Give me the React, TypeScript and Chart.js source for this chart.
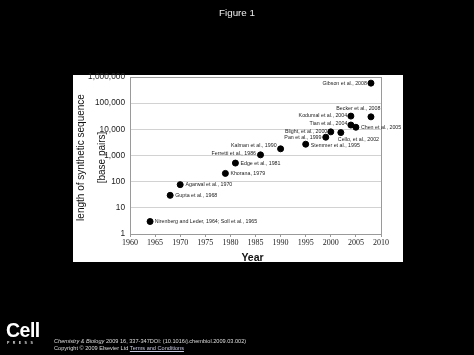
import React, { useEffect, useRef } from "react";
import { Chart, registerables } from "chart.js";

Chart.register(...registerables);

const YEARS = [1964, 1968, 1970, 1979, 1981, 1986, 1990, 1995, 1999, 2000, 2002, 2004, 2005, 2004, 2008, 2008];
const BASE_PAIRS = [3, 30, 77, 207, 514, 1057, 1800, 2700, 5000, 8000, 7500, 14600, 12000, 32000, 30000, 583000];
const POINT_LABELS = [
  "Nirenberg and Leder, 1964; Soll et al., 1965",
  "Gupta et al., 1968",
  "Agarwal et al., 1970",
  "Khorana, 1979",
  "Edge et al., 1981",
  "Ferretti et al., 1986",
  "Kalman et al., 1990",
  "Stemmer et al., 1995",
  "Pan et al., 1999",
  "Blight, et al., 2000",
  "Cello, et al., 2002",
  "Tian et al., 2004",
  "Chen et al., 2005",
  "Kodumal et al., 2004",
  "Becker et al., 2008",
  "Gibson et al., 2008",
];
const X_TICKS = [1960, 1965, 1970, 1975, 1980, 1985, 1990, 1995, 2000, 2005, 2010];
const Y_TICKS = [1, 10, 100, 1000, 10000, 100000, 1000000];
const Y_TICK_LABELS = ["1", "10", "100", "1,000", "10,000", "100,000", "1,000,000"];
const Y_TITLE = ["length of synthetic sequence", "[base pairs]"];
const X_TITLE = "Year";

// label placement style: [textAlign, dx, dy]
const LABEL_STYLE: [CanvasTextAlign, number, number][] = [
  ["left", 4.7, 0],
  ["left", 5, 0],
  ["left", 5.3, 0],
  ["left", 5, 0],
  ["left", 5, 0],
  ["right", -4.5, -1],
  ["right", -4, -3],
  ["left", 5, 1],
  ["right", -4.3, 0],
  ["right", -3.5, 0],
  ["left", -3, 6.7],
  ["right", -3.5, -1],
  ["left", 5, 0],
  ["right", -3.7, -1],
  ["right", 9.5, -8],
  ["right", -4, 0],
];

const panelPlugin = {
  id: "panel",
  beforeDraw(chart: any) {
    const { ctx } = chart;
    ctx.save();
    ctx.fillStyle = "#000";
    ctx.fillRect(0, 0, chart.width, chart.height);
    ctx.fillStyle = "#fff";
    ctx.fillRect(73, 75, 330, 187);
    ctx.restore();
  },
  beforeDatasetsDraw(chart: any) {
    const { ctx, chartArea: a } = chart;
    ctx.save();
    ctx.strokeStyle = "#9a9a9a";
    ctx.lineWidth = 1;
    ctx.strokeRect(Math.round(a.left) + 0.5, Math.round(a.top) + 0.5, Math.round(a.right - a.left), Math.round(a.bottom - a.top));
    ctx.restore();
  },
  afterDraw(chart: any) {
    const { ctx, chartArea: a } = chart;
    ctx.save();
    // point labels
    const meta = chart.getDatasetMeta(0);
    ctx.font = "5.3px 'Liberation Sans', Arial, sans-serif";
    ctx.fillStyle = "#222";
    ctx.textBaseline = "middle";
    meta.data.forEach((pt: any, i: number) => {
      const [align, dx, dy] = LABEL_STYLE[i];
      ctx.textAlign = align;
      ctx.fillText(POINT_LABELS[i], pt.x + dx, pt.y + dy);
    });
    // y title
    const cy = (a.top + a.bottom) / 2 + 2;
    ctx.font = "10px 'Liberation Sans', Arial, sans-serif";
    ctx.fillStyle = "#111";
    ctx.textAlign = "center";
    ctx.textBaseline = "middle";
    Y_TITLE.forEach((line, i) => {
      ctx.save();
      ctx.translate(a.left - 49 + i * 21, cy);
      ctx.rotate(-Math.PI / 2);
      ctx.fillText(line, 0, 0);
      ctx.restore();
    });
    // x title
    ctx.font = "bold 10.5px 'Liberation Sans', Arial, sans-serif";
    ctx.fillText(X_TITLE, (a.left + a.right) / 2 - 3, a.bottom + 24);
    ctx.restore();
  },
};

export default function App() {
  const ref = useRef<HTMLCanvasElement>(null);
  useEffect(() => {
    if (!ref.current) return;
    const chart = new Chart(ref.current, {
      type: "scatter",
      data: {
        datasets: [
          {
            data: YEARS.map((x, i) => ({ x, y: BASE_PAIRS[i] })),
            backgroundColor: "#000",
            borderColor: "#000",
            pointRadius: 3,
            pointHoverRadius: 3,
          },
        ],
      },
      options: {
        animation: false,
        responsive: false,
        maintainAspectRatio: false,
        events: [],
        layout: { padding: { left: 73, top: 77, right: 93, bottom: 93 } },
        plugins: { legend: { display: false }, tooltip: { enabled: false } },
        scales: {
          x: {
            type: "linear",
            min: 1960,
            max: 2010,
            afterBuildTicks: (s: any) => {
              s.ticks = X_TICKS.map((v) => ({ value: v }));
            },
            afterFit: (s: any) => {
              s.height = 28;
              s.paddingLeft = 0;
              s.paddingRight = 0;
            },
            grid: { display: true, drawOnChartArea: false, tickLength: 3, color: "#9a9a9a" },
            border: { display: false },
            ticks: {
              padding: 1,
              maxRotation: 0,
              autoSkip: false,
              color: "#222",
              font: { family: "'Liberation Serif', 'Times New Roman', serif", size: 8 },
              callback: (v: any) => String(v),
            },
          },
          y: {
            type: "logarithmic",
            min: 1,
            max: 1000000,
            afterBuildTicks: (s: any) => {
              s.ticks = Y_TICKS.map((v) => ({ value: v }));
            },
            afterFit: (s: any) => {
              s.width = 57;
              s.paddingTop = 0;
              s.paddingBottom = 0;
            },
            grid: { color: "#d2d2d2", drawTicks: false },
            border: { display: false },
            ticks: {
              padding: 5,
              autoSkip: false,
              color: "#222",
              font: { family: "'Liberation Sans', Arial, sans-serif", size: 8.3 },
              callback: (v: any) => {
                const idx = Y_TICKS.indexOf(Number(v));
                return idx >= 0 ? Y_TICK_LABELS[idx] : "";
              },
            },
          },
        },
      },
      plugins: [panelPlugin],
    } as any);
    return () => chart.destroy();
  }, []);

  const sans = "'Liberation Sans', Arial, sans-serif";
  return (
    <div style={{ position: "fixed", left: 0, top: 0, width: 474, height: 355, background: "#000", overflow: "hidden" }}>
      <canvas ref={ref} width={474} height={355} style={{ position: "absolute", left: 0, top: 0, width: 474, height: 355 }} />
      <div style={{ position: "absolute", left: 0, width: 474, top: 6, textAlign: "center", color: "#eee", font: `9.8px ${sans}`, lineHeight: "14px" }}>
        Figure 1
      </div>
      <div style={{ position: "absolute", left: 6, top: 319, color: "#fff", font: `bold 19.5px ${sans}`, lineHeight: "22px", letterSpacing: "-0.5px" }}>
        Cell
      </div>
      <div style={{ position: "absolute", left: 7, top: 341, color: "#ddd", font: `bold 3.6px ${sans}`, lineHeight: "5px", letterSpacing: "3.4px" }}>
        PRESS
      </div>
      <div style={{ position: "absolute", left: 54, top: 338, color: "#ddd", font: `5.6px ${sans}`, lineHeight: "7.3px", whiteSpace: "nowrap" }}>
        <div>
          <i>Chemistry &amp; Biology</i> 2009 16, 337-347DOI: (10.1016/j.chembiol.2009.03.002)
        </div>
        <div>
          Copyright © 2009 Elsevier Ltd <span style={{ textDecoration: "underline", color: "#c8c8e0" }}>Terms and Conditions</span>
        </div>
      </div>
    </div>
  );
}
